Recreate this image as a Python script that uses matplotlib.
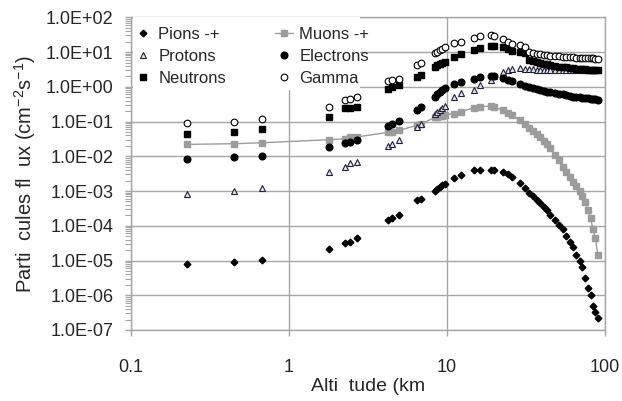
import numpy as np
import matplotlib
matplotlib.use("Agg")
import matplotlib.pyplot as plt
from matplotlib.ticker import FuncFormatter, LogLocator, NullFormatter
from matplotlib.patches import Rectangle

plt.rcParams['font.family'] = ['Liberation Sans', 'DejaVu Sans']
plt.rcParams['mathtext.default'] = 'regular'

# altitude (km)
alt_km = [0.225, 0.45, 0.675, 1.8, 2.25, 2.45, 2.7, 4.25, 4.5, 5.0, 6.5, 6.85,
          8.4, 8.7, 9.0, 9.3, 9.7, 11.0, 12.2, 14.8, 16.2, 18.9, 19.8, 22.5,
          24.2, 25.7, 28.9, 31, 33, 35, 37, 39, 41, 43, 45, 48, 51, 54, 57,
          60, 63, 66, 69, 72, 75, 78, 81, 84, 87, 90]

# particle fluxes (cm-2 s-1)
pions = [7.8e-6, 8.9e-6, 1.02e-5, 2.2e-5, 3.1e-5, 3.5e-5, 4.4e-5, 1.45e-4, 1.66e-4, 2.1e-4, 5.4e-4, 5.9e-4,
         1.0e-3, 1.12e-3, 1.29e-3, 1.48e-3, 1.58e-3, 2.3e-3, 2.8e-3, 4.1e-3, 4.1e-3, 4.1e-3, 4.1e-3, 3.5e-3,
         3.0e-3, 2.6e-3, 1.66e-3, 1.26e-3, 8.9e-4, 7.1e-4, 5.4e-4, 4.5e-4, 3.5e-4, 2.8e-4, 2.0e-4, 1.45e-4,
         1.05e-4, 7.9e-5, 5.0e-5, 3.5e-5, 2.4e-5, 1.4e-5, 1.0e-5, 6.3e-6, 3.2e-6, 1.6e-6, 1.0e-6, 5.0e-7,
         3.2e-7, 2.2e-7]
muons = [0.022, 0.023, 0.0245, 0.030, 0.032, 0.035, 0.036, 0.049, 0.050, 0.056, 0.079, 0.085,
         0.132, 0.138, 0.145, 0.148, 0.155, 0.17, 0.19, 0.25, 0.27, 0.275, 0.263, 0.21,
         0.178, 0.151, 0.110, 0.085, 0.066, 0.054, 0.044, 0.035, 0.028, 0.022, 0.0174, 0.0112,
         0.0076, 0.0050, 0.0035, 0.0025, 0.0018, 0.00135, 0.0010, 7.4e-4, 4.7e-4, 2.8e-4, 1.66e-4, 7.9e-5,
         4.5e-5, 1.4e-5]
protons = [8.3e-4, 1.0e-3, 1.2e-3, 3.5e-3, 4.9e-3, 6.2e-3, 6.9e-3, 0.0195, 0.022, 0.030, 0.071, 0.085,
           0.17, 0.19, 0.22, 0.25, 0.28, 0.50, 0.65, 0.80, 1.12, 1.55, 2.0, 2.7,
           2.95, 3.2, 3.4, 3.3, 3.2, 3.15, 3.1, 3.1, 3.05, 3.05, 3.0, 3.0,
           3.0, 3.0, 3.0, 3.0, 3.0, 3.0, 3.0, 3.0, 3.0, 3.0, 3.0, 3.0,
           3.0, 3.0]
electrons = [0.0083, 0.0093, 0.0102, 0.0186, 0.0245, 0.026, 0.029, 0.074, 0.085, 0.105, 0.22, 0.26,
             0.51, 0.60, 0.71, 0.83, 0.93, 1.2, 1.38, 1.66, 1.86, 2.04, 2.04, 1.82,
             1.58, 1.45, 1.17, 1.07, 1.0, 0.91, 0.85, 0.79, 0.76, 0.72, 0.69, 0.66,
             0.63, 0.60, 0.575, 0.55, 0.525, 0.51, 0.50, 0.49, 0.48, 0.47, 0.457, 0.447,
             0.437, 0.427]
neutrons = [0.044, 0.050, 0.059, 0.131, 0.24, 0.25, 0.265, 0.84, 0.98, 1.12, 1.94, 2.24,
            3.77, 4.2, 4.5, 4.8, 5.2, 7.3, 8.5, 11.4, 12.8, 14.9, 15.4, 14.2,
            12.6, 11.0, 10.0, 9.1, 5.9, 5.5, 5.1, 4.8, 4.5, 4.4, 4.2, 4.0,
            3.8, 3.7, 3.6, 3.5, 3.4, 3.3, 3.25, 3.2, 3.15, 3.1, 3.1, 3.0,
            3.0, 3.0]
gamma = [0.088, 0.098, 0.115, 0.255, 0.41, 0.46, 0.515, 1.49, 1.56, 1.63, 4.2, 4.8,
         9.2, 10.3, 11.4, 12.6, 14.2, 17.8, 19.5, 25, 29, 30, 29, 23,
         20, 17.6, 15.8, 14.1, 10.0, 9.3, 8.9, 8.5, 8.3, 8.1, 7.9, 7.8,
         7.6, 7.4, 7.2, 7.1, 7.1, 6.9, 6.9, 6.8, 6.8, 6.6, 6.6, 6.6,
         6.5, 6.5]

W, H = 622, 401
fig = plt.figure(figsize=(W / 100, H / 100), dpi=100)
ax = fig.add_axes([131 / W, 1 - 330 / H, 474 / W, 312.7 / H])

grid_c = '#a6a6a6'
ax.set_xscale('log')
ax.set_yscale('log')
ax.set_xlim(0.1, 100)
ax.set_ylim(1e-7, 1e2)

# data
h_pi, = ax.plot(alt_km, pions, ls='none', marker='D', ms=3.4, color='black', zorder=4)
h_mu, = ax.plot(alt_km, muons, ls='-', lw=1.0, marker='s', ms=5, color='#9c9c9c',
                mec='#9c9c9c', zorder=3)
h_p, = ax.plot(alt_km, protons, ls='none', marker='^', ms=4.8, mfc='#e4e6f4', mec='#202030',
               mew=0.8, zorder=4)
h_e, = ax.plot(alt_km, electrons, ls='none', marker='o', ms=4.8, color='black', zorder=4)
h_n, = ax.plot(alt_km, neutrons, ls='none', marker='s', ms=4.8, color='black', zorder=4)
h_g, = ax.plot(alt_km, gamma, ls='none', marker='o', ms=4.8, mfc='white', mec='black',
               mew=0.8, zorder=4)

# axes styling
for s in ax.spines.values():
    s.set_color(grid_c)
    s.set_linewidth(1.0)
ax.grid(True, which='major', color=grid_c, lw=1.0)
ax.set_axisbelow(True)

ax.yaxis.set_major_locator(LogLocator(base=10, numticks=20))
ax.yaxis.set_minor_locator(LogLocator(base=10, subs=np.arange(2, 10), numticks=20))
ax.yaxis.set_minor_formatter(NullFormatter())
ax.yaxis.set_major_formatter(FuncFormatter(lambda v, p: f"{v:.1E}"))
ax.xaxis.set_major_formatter(FuncFormatter(lambda v, p: f"{v:g}"))
ax.xaxis.set_minor_locator(plt.NullLocator())

ax.tick_params(axis='both', which='both', color=grid_c, direction='out')
ax.tick_params(axis='y', which='major', length=4.5, width=1.0, pad=8, labelsize=13,
               labelcolor='#262626')
ax.tick_params(axis='y', which='minor', length=4.5, width=0.8)
ax.tick_params(axis='x', which='major', length=4, width=1.0, pad=17, labelsize=13,
               labelcolor='#262626')

ax.set_xlabel('Alti  tude (km', fontsize=14, color='#262626', labelpad=1)
ax.set_ylabel('Parti  cules fl  ux (cm$^{-2}$s$^{-1}$)', fontsize=14.5, color='#262626',
              labelpad=6)

# white legend area
ax.add_patch(Rectangle((0.004, 0.7675), 0.479, 0.2325, transform=ax.transAxes,
                       facecolor='white', edgecolor='none', zorder=2.6, clip_on=False))

handles = [h_pi, h_p, h_n, h_mu, h_e, h_g]
labels = ['Pions -+', 'Protons', 'Neutrons', 'Muons -+', 'Electrons', 'Gamma']
leg = ax.legend(handles, labels, ncol=2, loc='upper left',
                bbox_to_anchor=(134 / W, 1 - 27 / H), bbox_transform=fig.transFigure,
                frameon=False, fontsize=12, handlelength=1.1, handletextpad=0.35,
                columnspacing=2.95, labelspacing=0.42, borderpad=0, borderaxespad=0)
leg.set_zorder(5)
for t in leg.get_texts():
    t.set_color('#262626')

fig.savefig('out.png', dpi=100)
